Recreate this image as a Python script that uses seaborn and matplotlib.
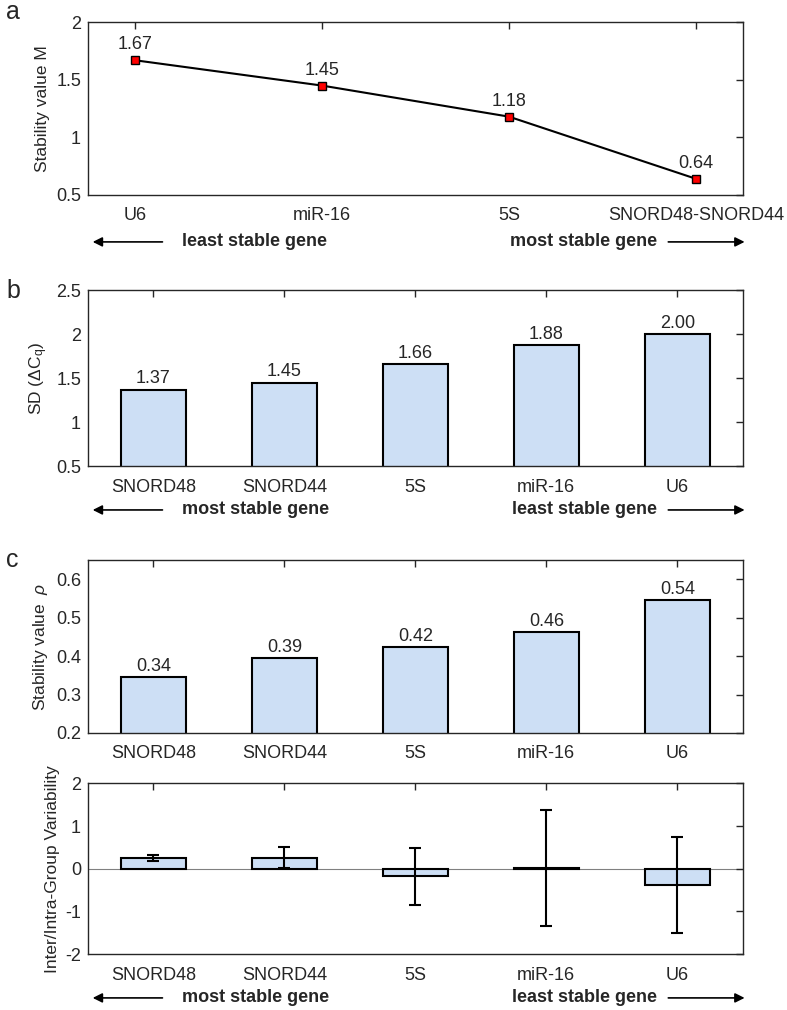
import numpy as np
import pandas as pd
import matplotlib
matplotlib.use("Agg")
import matplotlib.pyplot as plt
import seaborn as sns

# ---------------- data ----------------
a_genes = ["U6", "miR-16", "5S", "SNORD48-SNORD44"]
a_values = [1.67, 1.45, 1.18, 0.64]

b_genes = ["SNORD48", "SNORD44", "5S", "miR-16", "U6"]
b_values = [1.37, 1.45, 1.66, 1.88, 2.00]

c_genes = ["SNORD48", "SNORD44", "5S", "miR-16", "U6"]
c_values = [0.345, 0.395, 0.423, 0.462, 0.545]
c_labels = ["0.34", "0.39", "0.42", "0.46", "0.54"]

d_values = [0.25, 0.26, -0.18, 0.01, -0.38]
d_errors = [0.06, 0.24, 0.67, 1.36, 1.12]

# ---------------- style ----------------
sns.set_style("white")
plt.rcParams["font.family"] = ["Liberation Sans", "DejaVu Sans"]
plt.rcParams["mathtext.fontset"] = "custom"
plt.rcParams["mathtext.rm"] = "Liberation Sans"
plt.rcParams["mathtext.it"] = "Liberation Sans:italic"
plt.rcParams["axes.unicode_minus"] = False
FS = 13
YFS = 12.5
DARK = "#262626"
BAR = "#cddff5"

fig = plt.figure(figsize=(7.87, 10.10), dpi=100)
L, W = 0.1118, 0.832
ax_a = fig.add_axes([L, 0.807, W, 0.171])
ax_b = fig.add_axes([L, 0.5386, W, 0.174])
ax_c = fig.add_axes([L, 0.2743, W, 0.1713])
ax_d = fig.add_axes([L, 0.0554, W, 0.169])


def matlab_box(ax):
    for s in ax.spines.values():
        s.set_color(DARK)
        s.set_linewidth(1.0)
    ax.tick_params(direction="in", length=5, width=1, colors=DARK,
                   labelsize=FS, top=True, right=True, pad=5)
    ax.tick_params(axis="x", pad=9)
    ax.set_xlabel("")


def arrows(ax, y, left_text, right_text):
    ax.annotate("", xy=(0.003, y), xytext=(0.118, y), xycoords="axes fraction",
                arrowprops=dict(arrowstyle="-|>", color="black", lw=1.2,
                                mutation_scale=14), annotation_clip=False)
    ax.text(0.143, y, left_text, transform=ax.transAxes, ha="left", va="center",
            fontsize=FS, fontweight="bold", clip_on=False)
    ax.text(0.869, y, right_text, transform=ax.transAxes, ha="right", va="center",
            fontsize=FS, fontweight="bold", clip_on=False)
    ax.annotate("", xy=(1.007, y), xytext=(0.882, y), xycoords="axes fraction",
                arrowprops=dict(arrowstyle="-|>", color="black", lw=1.2,
                                mutation_scale=14), annotation_clip=False)


# ---------------- panel a ----------------
df_a = pd.DataFrame({"gene": a_genes, "M": a_values})
sns.lineplot(data=df_a, x="gene", y="M", ax=ax_a, color="black", lw=1.5,
             marker="s", markersize=6, markerfacecolor="red",
             markeredgecolor="black", markeredgewidth=1, sort=False)
ax_a.set_xlim(-0.25, len(a_genes) - 0.75)
ax_a.set_ylim(0.5, 2)
ax_a.set_yticks([0.5, 1, 1.5, 2])
ax_a.set_yticklabels(["0.5", "1", "1.5", "2"])
ax_a.set_ylabel("Stability value M", fontsize=YFS)
for i, v in enumerate(a_values):
    ax_a.annotate(f"{v:.2f}", (i, v), xytext=(0, 5), textcoords="offset points",
                  ha="center", va="bottom", fontsize=FS)
matlab_box(ax_a)
arrows(ax_a, -0.272, "least stable gene", "most stable gene")

# ---------------- panel b ----------------
df_b = pd.DataFrame({"gene": b_genes, "sd": b_values})
sns.barplot(data=df_b, x="gene", y="sd", ax=ax_b, color=BAR, width=0.5,
            edgecolor="black", linewidth=1.5, saturation=1, bottom=0)
ax_b.set_ylim(0.5, 2.5)
ax_b.set_yticks([0.5, 1, 1.5, 2, 2.5])
ax_b.set_yticklabels(["0.5", "1", "1.5", "2", "2.5"])
ax_b.set_xlim(-0.5, len(b_genes) - 0.5)
ax_b.set_ylabel(r"SD ($\Delta$C$_\mathregular{q}$)", fontsize=YFS)
for i, v in enumerate(b_values):
    ax_b.annotate(f"{v:.2f}", (i, v), xytext=(0, 1.5), textcoords="offset points",
                  ha="center", va="bottom", fontsize=FS)
matlab_box(ax_b)
arrows(ax_b, -0.25, "most stable gene", "least stable gene")

# ---------------- panel c (top) ----------------
df_c = pd.DataFrame({"gene": c_genes, "rho": c_values})
sns.barplot(data=df_c, x="gene", y="rho", ax=ax_c, color=BAR, width=0.5,
            edgecolor="black", linewidth=1.5, saturation=1)
ax_c.set_ylim(0.2, 0.65)
ax_c.set_yticks([0.2, 0.3, 0.4, 0.5, 0.6])
ax_c.set_xlim(-0.5, len(c_genes) - 0.5)
ax_c.set_ylabel(r"Stability value  $\it{\rho}$", fontsize=YFS)
for i, (v, t) in enumerate(zip(c_values, c_labels)):
    ax_c.annotate(t, (i, v), xytext=(0, 1.5), textcoords="offset points",
                  ha="center", va="bottom", fontsize=FS)
matlab_box(ax_c)

# ---------------- panel c (bottom) ----------------
df_d = pd.DataFrame({"gene": c_genes, "var": d_values})
ax_d.axhline(0, color="#808080", lw=0.8, zorder=0)
sns.barplot(data=df_d, x="gene", y="var", ax=ax_d, color=BAR, width=0.5,
            edgecolor="black", linewidth=1.5, saturation=1)
ax_d.errorbar(np.arange(len(d_values)), d_values, yerr=d_errors, fmt="none",
              ecolor="black", elinewidth=1.5, capsize=4, capthick=1.5, zorder=5)
ax_d.set_ylim(-2, 2)
ax_d.set_yticks([-2, -1, 0, 1, 2])
ax_d.set_xlim(-0.5, len(c_genes) - 0.5)
ax_d.set_ylabel("Inter/Intra-Group Variability", fontsize=YFS)
matlab_box(ax_d)
arrows(ax_d, -0.257, "most stable gene", "least stable gene")

# panel letters
fig.text(0.008, 0.988, "a", fontsize=18, va="center")
fig.text(0.008, 0.712, "b", fontsize=18, va="center")
fig.text(0.008, 0.446, "c", fontsize=18, va="center")

fig.savefig("out.png", dpi=100)
